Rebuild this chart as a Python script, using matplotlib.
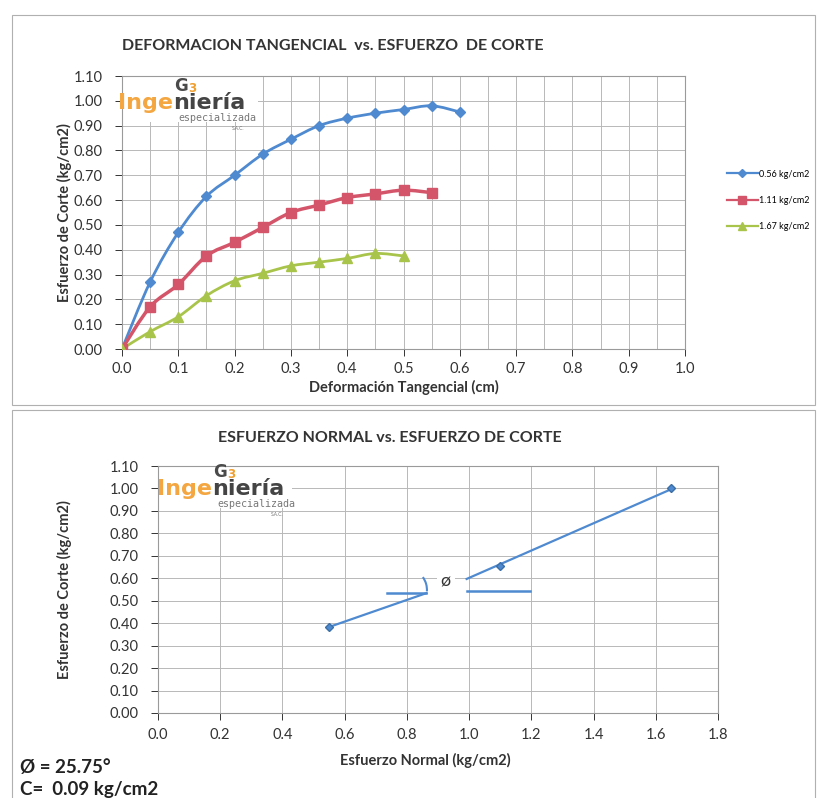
import matplotlib
matplotlib.use('Agg')
import numpy as np
import matplotlib.pyplot as plt
from matplotlib.patches import Rectangle, Arc, PathPatch
from matplotlib.path import Path
from matplotlib.lines import Line2D
from matplotlib.ticker import MultipleLocator

plt.rcParams['font.family'] = ['Lato', 'DejaVu Sans']

# --- data -------------------------------------------------------------
deform = [0.0, 0.05, 0.10, 0.15, 0.20, 0.25, 0.30, 0.35, 0.40, 0.45, 0.50, 0.55, 0.60]
corte_056 = [0.0, 0.27, 0.47, 0.615, 0.70, 0.785, 0.845, 0.90, 0.93, 0.95, 0.965, 0.98, 0.955]
corte_111 = [0.0, 0.17, 0.26, 0.375, 0.43, 0.49, 0.55, 0.58, 0.61, 0.625, 0.64, 0.63]
corte_167 = [0.0, 0.07, 0.13, 0.215, 0.275, 0.305, 0.335, 0.35, 0.365, 0.385, 0.375]
series_labels = ['0.56 kg/cm2', '1.11 kg/cm2', '1.67 kg/cm2']

normal = [0.55, 1.10, 1.65]
corte_max = [0.383, 0.655, 1.00]

# hand drawn envelope line and angle marks
env_x1 = [0.55, 0.863]
env_y1 = [0.383, 0.534]
env_x2 = [0.992, 1.655]
env_y2 = [0.597, 1.00]
horiz_x1 = [0.735, 0.863]
horiz_x2 = [0.992, 1.195]
horiz_y = [0.534, 0.543]

phi_txt = 'Ø = 25.75°'
c_txt = 'C=  0.09 kg/cm2'

blue = '#4F8AD0'
red = '#D4556A'
green = '#A9C44A'
gridc = '#b8b8b8'
txtc = '#333333'

fig = plt.figure(figsize=(8.19, 7.98), dpi=100)

# chart frames
fig.patches.append(Rectangle((12/819, 1-405/798), 803/819, 390/798, transform=fig.transFigure,
                             fill=False, ec='#b0b0b0', lw=0.8))
fig.patches.append(Rectangle((12/819, -0.01), 803/819, 1-410/798+0.01, transform=fig.transFigure,
                             fill=False, ec='#b0b0b0', lw=0.8))


def smooth(x, y):
    # excel style smoothed line: bezier through the points
    pts = np.column_stack([np.asarray(x, float), np.asarray(y, float)])
    verts = [pts[0]]
    codes = [Path.MOVETO]
    n = len(pts)
    for i in range(n - 1):
        p0 = pts[i - 1] if i > 0 else pts[i]
        p1, p2 = pts[i], pts[i + 1]
        p3 = pts[i + 2] if i + 2 < n else pts[i + 1]
        verts += [p1 + (p2 - p0) / 6, p2 - (p3 - p1) / 6, p2]
        codes += [Path.CURVE4] * 3
    return Path(verts, codes)


def style(ax):
    for s in ax.spines.values():
        s.set_color('#9a9a9a')
        s.set_linewidth(0.8)
    ax.tick_params(colors=txtc, labelsize=10.5, length=5, width=0.7, direction='out', pad=6)
    ax.grid(True, which='both', color=gridc, lw=0.7)
    ax.set_axisbelow(True)


def logo(ax, x0, y0, w, h):
    ax.add_patch(Rectangle((x0, y0), w, h, transform=fig.transFigure, fc='white', ec='none', zorder=1.5))
    t1 = ax.text(x0 + 0.002, y0 + 0.016, 'Inge', color='#f4a640', fontsize=16, fontweight='bold',
                 family='DejaVu Sans', transform=fig.transFigure, zorder=3)
    t2 = ax.annotate('niería', xy=(1, 0), xycoords=t1, va='bottom', color='#444444', fontsize=16,
                     fontweight='bold', family='DejaVu Sans', zorder=3)
    ax.annotate('especializada', xy=(0.08, 0), xycoords=t2, xytext=(0, 0.5), textcoords='offset points',
                va='top', color='#777777', fontsize=7.2, family='DejaVu Sans Mono', zorder=3)
    ax.annotate('S.A.C.', xy=(0.82, 0), xycoords=t2, xytext=(0, -9.5), textcoords='offset points',
                va='top', color='#777777', fontsize=3.5, zorder=3)
    g = ax.annotate('G', xy=(0.02, 1), xycoords=t2, xytext=(0, -1), textcoords='offset points',
                    va='bottom', color='#4a4a4a', fontsize=12, fontweight='bold', family='DejaVu Sans',
                    zorder=3)
    ax.annotate('3', xy=(1.0, 0), xycoords=g, xytext=(0, 0), textcoords='offset points',
                va='bottom', color='#f0a030', fontsize=8.5, fontweight='bold', family='DejaVu Sans', zorder=4)


# --- top chart ----------------------------------------------------------
ax1 = fig.add_axes([122/819, 1-349/798, 563/819, 273/798])
style(ax1)
series = [(corte_056, blue, 'D', 5.5, 2.0), (corte_111, red, 's', 7.5, 2.5), (corte_167, green, '^', 7.5, 2.0)]
handles = []
for vals, col, mk, ms, lw in series:
    xs = deform[:len(vals)]
    ax1.add_patch(PathPatch(smooth(xs, vals), fill=False, ec=col, lw=lw, zorder=2))
    ax1.plot(xs, vals, ls='none', marker=mk, ms=ms, color=col, zorder=3)
    handles.append(Line2D([], [], color=col, marker=mk, ms=ms * 0.7, lw=1.6))
ax1.set_xlim(0, 1.0)
ax1.set_ylim(0, 1.10)
ax1.xaxis.set_major_locator(MultipleLocator(0.1))
ax1.xaxis.set_minor_locator(MultipleLocator(0.05))
ax1.yaxis.set_major_locator(MultipleLocator(0.1))
ax1.xaxis.set_major_formatter(lambda v, p: f'{v:.1f}')
ax1.yaxis.set_major_formatter(lambda v, p: f'{v:.2f}')
ax1.tick_params(axis='y', pad=9)
ax1.tick_params(axis='x', pad=4)
ax1.tick_params(which='minor', length=0)
ax1.set_xlabel('Deformación Tangencial (cm)', fontsize=10.5, fontweight='bold', color=txtc, labelpad=3)
ax1.set_ylabel('Esfuerzo de Corte (kg/cm2)', fontsize=10.5, fontweight='bold', color=txtc)
ax1.yaxis.set_label_coords(-0.089, 0.5)
fig.text(333/819, 1-46/798, 'DEFORMACION TANGENCIAL  vs. ESFUERZO  DE CORTE', fontsize=11.5,
         fontweight='bold', color=txtc, ha='center', va='center')
ax1.legend(handles, series_labels, loc='center left', bbox_to_anchor=(1.06, 0.545), frameon=False,
           fontsize=6.5, handlelength=3.4, labelspacing=1.9, handletextpad=0.2)
logo(ax1, 116/819, 1-122/798, 142/819, 48/798)

# --- bottom chart ------------------------------------------------------
ax2 = fig.add_axes([158/819, 1-713/798, 560/819, 247/798])
style(ax2)
ax2.plot(normal, corte_max, ls='none', marker='D', ms=4.5, color=blue, mec='#3a6fa8', zorder=4)
ax2.plot(env_x1, env_y1, color=blue, lw=1.6)
ax2.plot(env_x2, env_y2, color=blue, lw=1.6)
ax2.plot(horiz_x1, [horiz_y[0]] * 2, color=blue, lw=1.8)
ax2.plot(horiz_x2, [horiz_y[1]] * 2, color=blue, lw=1.8)
ax2.add_patch(Arc((0.794, 0.548), 0.141, 0.196, theta1=-5, theta2=45, color=blue, lw=1.5))
ax2.text(0.925, 0.585, 'ø', fontsize=13, ha='center', va='center', color='#333333',
         bbox=dict(fc='white', ec='none', pad=3))
ax2.set_xlim(0, 1.8)
ax2.set_ylim(0, 1.10)
ax2.xaxis.set_major_locator(MultipleLocator(0.2))
ax2.yaxis.set_major_locator(MultipleLocator(0.1))
ax2.xaxis.set_major_formatter(lambda v, p: f'{v:.1f}')
ax2.yaxis.set_major_formatter(lambda v, p: f'{v:.2f}')
ax2.tick_params(axis='y', pad=9)
ax2.tick_params(axis='x', pad=6)
ax2.set_ylabel('Esfuerzo de Corte (kg/cm2)', fontsize=10.5, fontweight='bold', color=txtc)
ax2.yaxis.set_label_coords(-0.153, 0.5)
fig.text(425/819, 1-760/798, 'Esfuerzo Normal (kg/cm2)', fontsize=10.5, fontweight='bold',
         color=txtc, ha='center', va='center')
fig.text(390/819, 1-438/798, 'ESFUERZO NORMAL vs. ESFUERZO DE CORTE', fontsize=11.5,
         fontweight='bold', color=txtc, ha='center', va='center')
logo(ax2, 155/819, 1-508/798, 137/819, 45/798)

fig.text(20/819, 1-768/798, phi_txt, fontsize=13.5, fontweight='bold', color='#222222', va='center')
fig.text(20/819, 1-790/798, c_txt, fontsize=13.5, fontweight='bold', color='#222222', va='center')

fig.savefig('out.png', dpi=100)
